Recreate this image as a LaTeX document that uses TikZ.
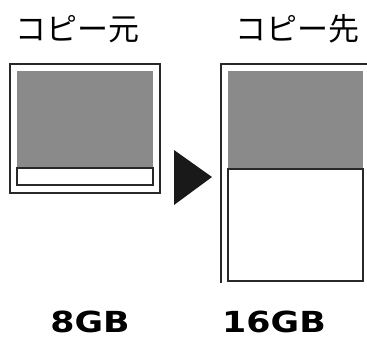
\documentclass[tikz,border=0pt]{standalone}
\usepackage{fontspec}
\newfontfamily\jpfont{Noto Sans CJK JP}
\newfontfamily\gbfont[FakeStretch=1.2]{DejaVu Sans}
\definecolor{fillgray}{RGB}{138,138,138}
\definecolor{linegray}{RGB}{40,40,40}

\begin{document}
\begin{tikzpicture}[x=1pt, y=-1pt,
    title/.style={font=\jpfont\fontsize{31}{33}\selectfont, inner sep=0pt},
    size/.style={font=\gbfont\bfseries\fontsize{29}{30}\selectfont, inner sep=0pt}]
  \useasboundingbox (0, 0) rectangle (367, 340);
  % source card
  \draw [linegray, line width=1.6pt] (10, 64) rectangle (160, 193);
  \fill [fillgray] (17, 71) rectangle (153, 168);
  \draw [linegray, line width=1.3pt, fill=white] (17, 168) rectangle (153, 185);
  % copy arrow
  \fill [black!90] (174, 150) -- (212, 177) -- (174, 205) -- cycle;
  % target card (cut off at right)
  \draw [linegray, line width=1.6pt] (221, 283) -- (221, 64) -- (367, 64);
  \fill [fillgray] (228, 71) rectangle (363, 169);
  \draw [linegray, line width=1.3pt, fill=white] (228, 169) rectangle (363, 281);
  % labels
  \node [title] (src) at (78, 29) {コピー元};
  \node [title] (dst) at (297, 29) {コピー先};
  \node [size] (srcsize) at (90, 322) {8GB};
  \node [size] (dstsize) at (274, 322) {16GB};
\end{tikzpicture}
\end{document}
